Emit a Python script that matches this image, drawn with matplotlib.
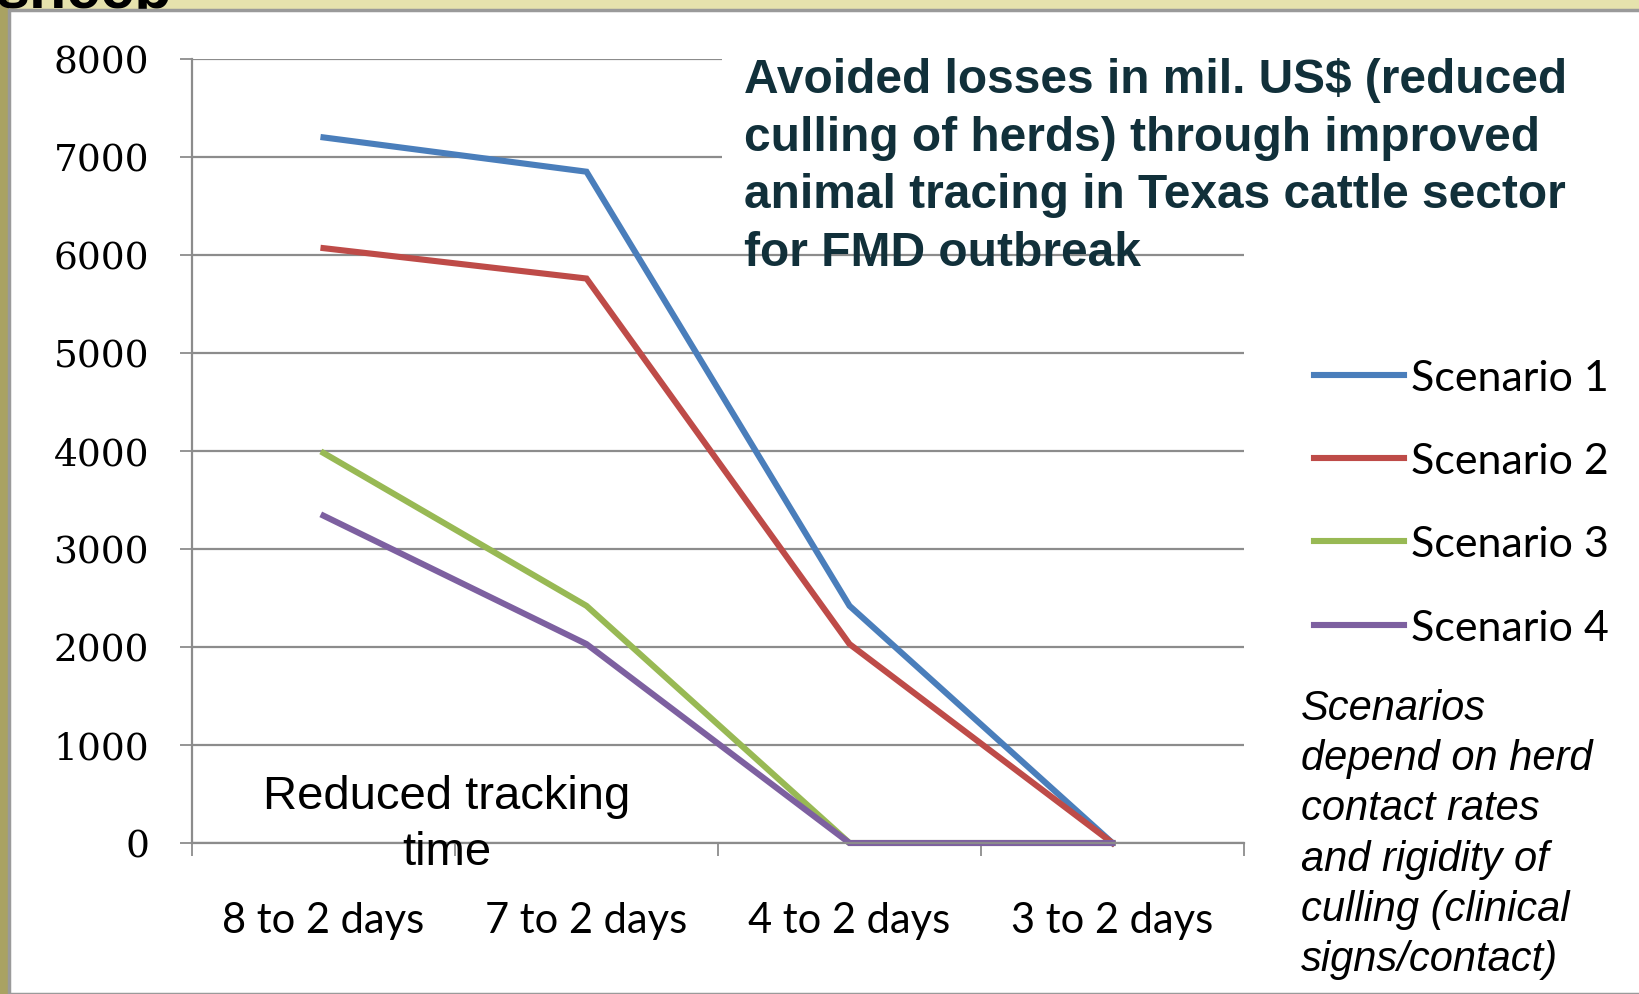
import numpy as np
import matplotlib.pyplot as plt
from matplotlib.patches import Rectangle
from matplotlib.ticker import FixedLocator

# data
periods = ['8 to 2 days', '7 to 2 days', '4 to 2 days', '3 to 2 days']
scenario1 = [7200, 6850, 2420, 0]
scenario2 = [6070, 5760, 2030, 0]
scenario3 = [3980, 2420, 0, 0]
scenario4 = [3340, 2030, 0, 0]
labels = ['Scenario 1', 'Scenario 2', 'Scenario 3', 'Scenario 4']
colors = ['#4a7ebb', '#be4b48', '#98b954', '#7d60a0']
yticks = [0, 1000, 2000, 3000, 4000, 5000, 6000, 7000, 8000]

W, H = 1639, 995
fig = plt.figure(figsize=(W / 100, H / 100), dpi=100)
fig.patch.set_facecolor('#e6e2ad')

def fx(x):
    return x / W

def fy(y):
    return 1 - y / H

# slide frame bits
fig.patches.append(Rectangle((0, 0), fx(9), 1, transform=fig.transFigure,
                             facecolor='#a9a263', edgecolor='none', zorder=0))
fig.text(fx(-4), fy(8), 'sheep', fontsize=44, fontweight='bold', color='black',
         family='Liberation Sans', va='baseline', ha='left', zorder=0.5)
fig.patches.append(Rectangle((fx(9), 0), 1, fy(11), transform=fig.transFigure,
                             facecolor='white', edgecolor='#9a9a9a', linewidth=2.5, zorder=1))

ax = fig.add_axes([fx(192), fy(844), fx(1244) - fx(192), fy(60) - fy(844)])
ax.set_zorder(2)
ax.patch.set_alpha(0)

x = np.arange(len(periods))
for vals, lab, c in zip([scenario1, scenario2, scenario3, scenario4], labels, colors):
    ax.plot(x, vals, color=c, lw=4.4, label=lab, solid_joinstyle='miter', clip_on=False)

ax.set_xlim(-0.5, 3.5)
ax.set_ylim(0, 8000)
ax.set_yticks(yticks)
ax.set_yticklabels([str(v) for v in yticks], family='DejaVu Serif', fontsize=27)
ax.set_xticks(x)
ax.set_xticklabels(periods, family='Lato', fontsize=30)
ax.xaxis.set_minor_locator(FixedLocator(np.arange(-0.5, 4, 1.0)))
ax.tick_params(axis='x', which='major', length=0, pad=42)
ax.tick_params(axis='x', which='minor', length=9, width=1.3, color='#8c8c8c', direction='out')
ax.tick_params(axis='y', length=9, width=1.3, color='#8c8c8c', pad=22)
ax.grid(axis='y', color='#8c8c8c', lw=1.6)
for s in ['top', 'right']:
    ax.spines[s].set_visible(False)
for s in ['left', 'bottom']:
    ax.spines[s].set_color('#8c8c8c')
    ax.spines[s].set_linewidth(1.6)

# white area behind title hides the upper gridlines
ax.add_patch(Rectangle((fx(722), fy(215)), fx(1250) - fx(722), fy(20) - fy(215),
                       transform=fig.transFigure, facecolor='white', edgecolor='none',
                       zorder=1.8, clip_on=False))

fig.text(fx(744), fy(58), 'Avoided losses in mil. US$ (reduced\nculling of herds) through improved\n'
         'animal tracing in Texas cattle sector\nfor FMD outbreak',
         fontsize=34.5, fontweight='bold', color='#11303a', family='Liberation Sans',
         va='top', ha='left', linespacing=1.36, zorder=5)

fig.text(fx(447), fy(825), 'Reduced tracking\ntime', fontsize=34, family='Liberation Sans',
         ha='center', va='center', linespacing=1.36, zorder=5)

fig.text(fx(1301), fy(689), 'Scenarios\ndepend on herd\ncontact rates\nand rigidity of\n'
         'culling (clinical\nsigns/contact)', fontsize=30, style='italic',
         family='Liberation Sans', ha='left', va='top', linespacing=1.33, zorder=5)

ax.legend(loc='upper left', bbox_to_anchor=(fx(1314), fy(360)), bbox_transform=fig.transFigure,
          frameon=False, prop={'family': 'Lato', 'size': 31}, handlelength=2.1,
          handletextpad=0.15, labelspacing=1.05, borderpad=0, borderaxespad=0)

fig.savefig('out.png', dpi=100)
